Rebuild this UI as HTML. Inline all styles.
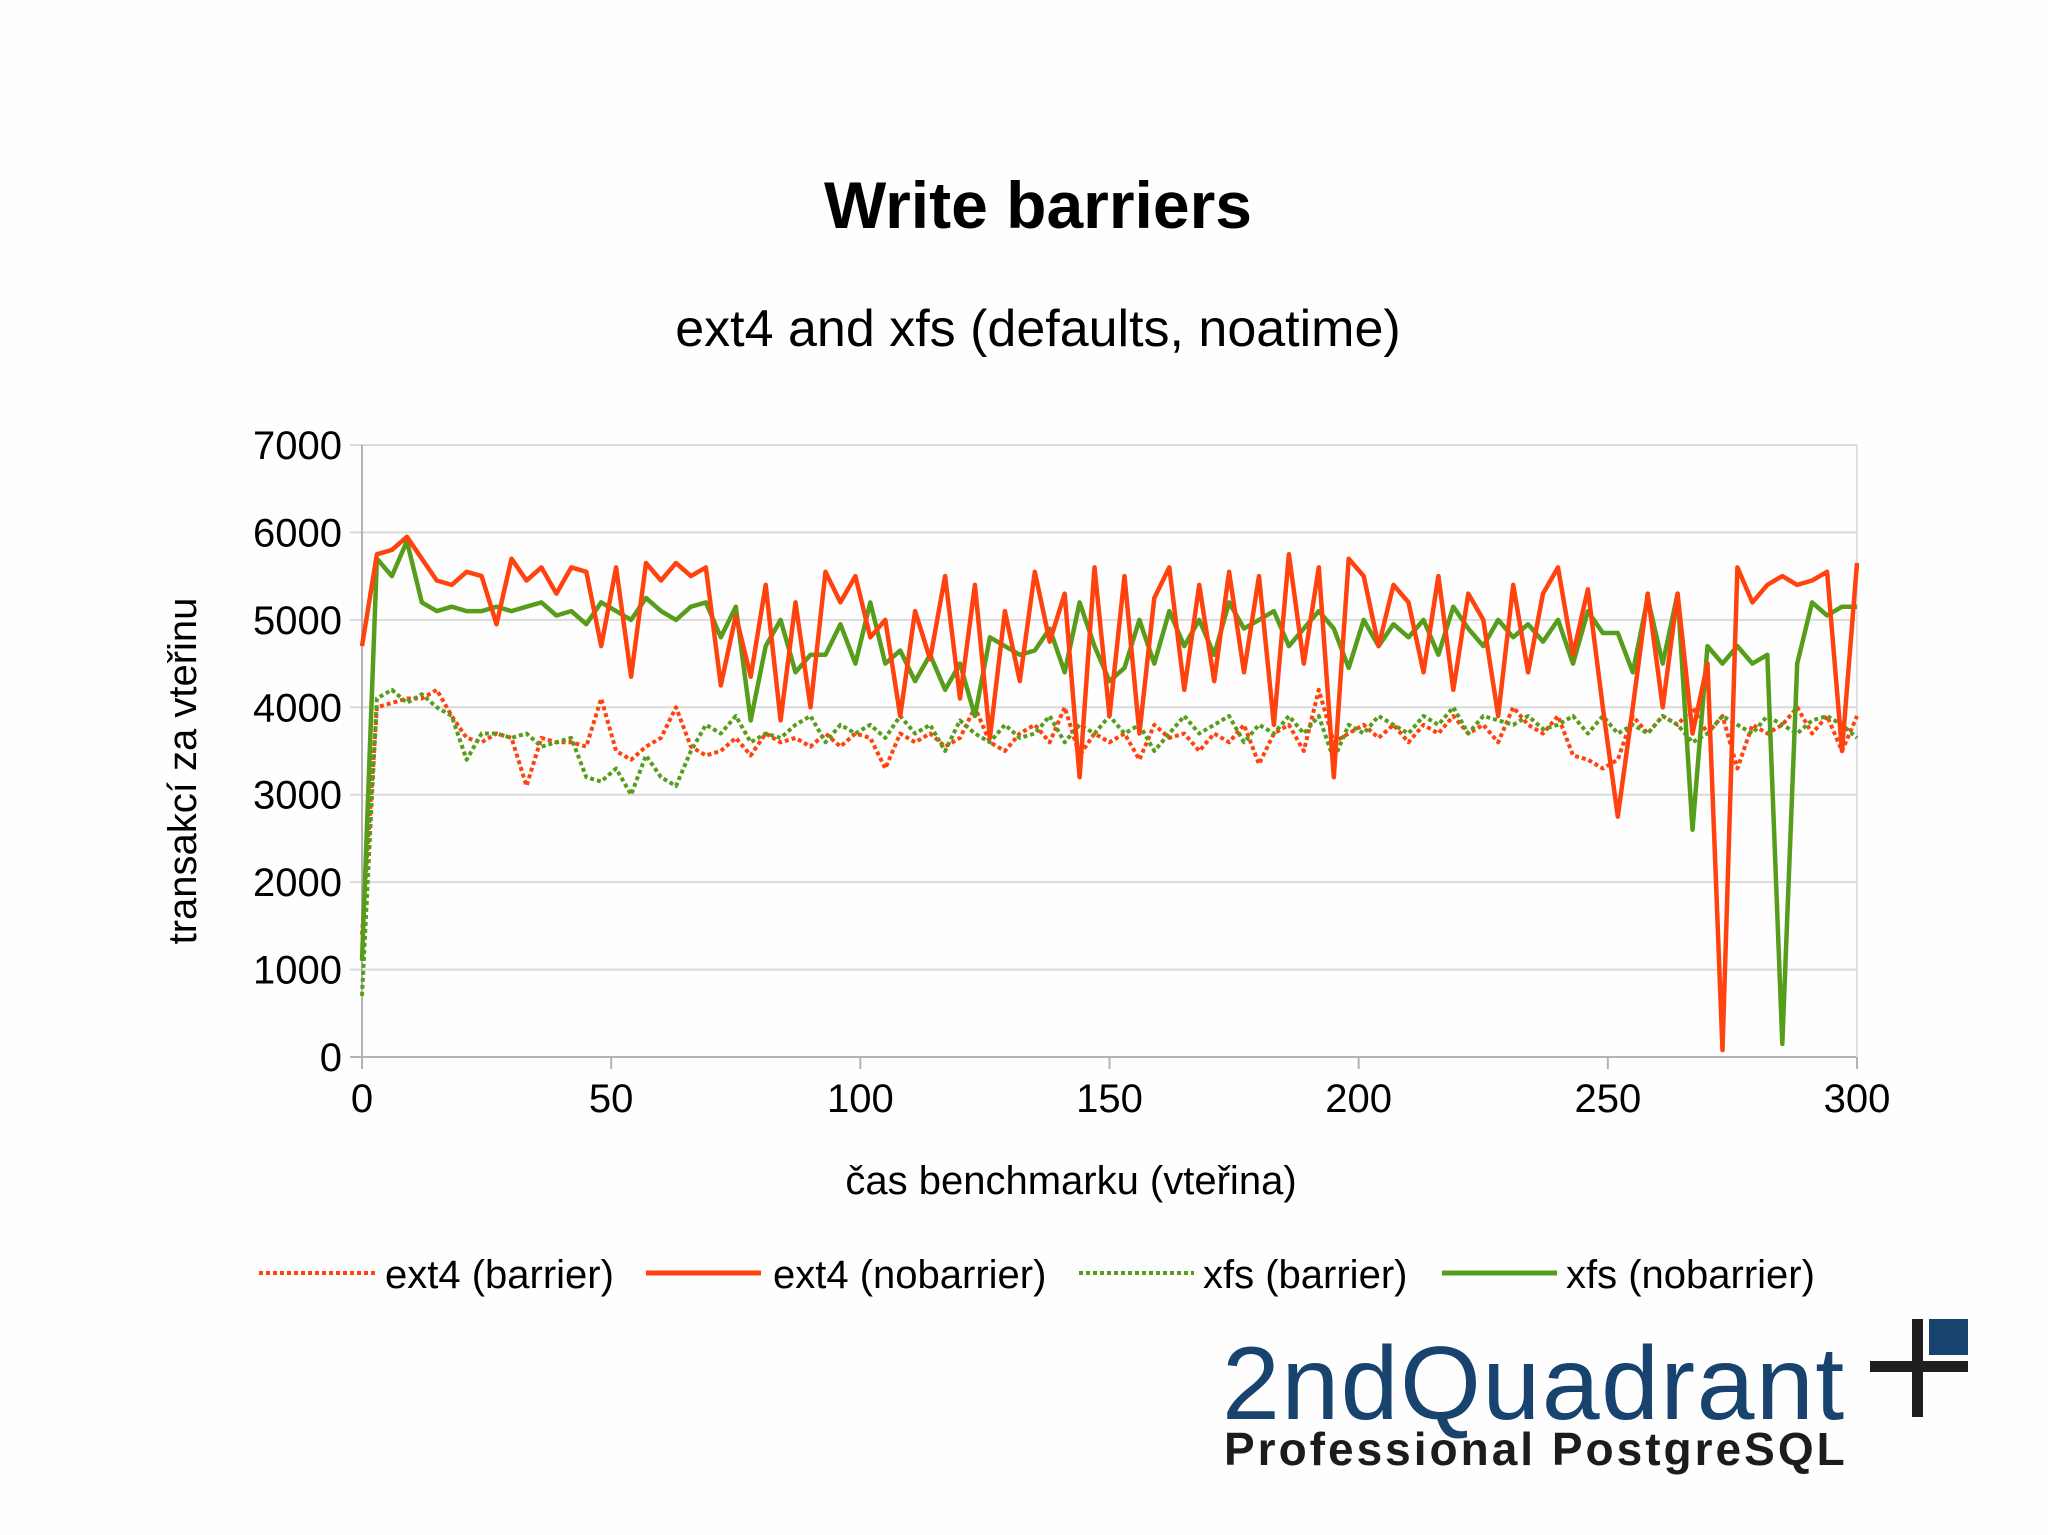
<!DOCTYPE html>
<html><head><meta charset="utf-8"><style>
html,body{margin:0;padding:0;background:#fff;}
svg{display:block;font-family:"Liberation Sans",sans-serif;}
</style></head><body>
<svg id="chart" width="2048" height="1535" viewBox="0 0 2048 1535" xmlns="http://www.w3.org/2000/svg">
<rect width="2048" height="1535" fill="#fefefe"/>
<text x="1038" y="228" text-anchor="middle" font-size="66" font-weight="bold" fill="#000">Write barriers</text>
<text x="1038" y="346" text-anchor="middle" font-size="52" fill="#000">ext4 and xfs (defaults, noatime)</text>
<g id="grid"></g>
<g id="yticks"></g>
<g id="xticks"></g>
<g id="series"></g>
<text x="1071" y="1194" text-anchor="middle" font-size="40" fill="#000">čas benchmarku (vteřina)</text>
<text transform="translate(196,771) rotate(-90)" text-anchor="middle" font-size="40" fill="#000">transakcí za vteřinu</text>
<g>
 <g>
  <line x1="259" y1="1273" x2="375" y2="1273" stroke="#ff420e" stroke-width="4" stroke-dasharray="4 3"/>
  <text x="385" y="1288" font-size="40">ext4 (barrier)</text></g>
 <g>
  <line x1="646" y1="1273" x2="761" y2="1273" stroke="#ff420e" stroke-width="5"/>
  <text x="773" y="1288" font-size="40">ext4 (nobarrier)</text></g>
 <g>
  <line x1="1079" y1="1273" x2="1194" y2="1273" stroke="#579d1c" stroke-width="4" stroke-dasharray="4 3"/>
  <text x="1203" y="1288" font-size="40">xfs (barrier)</text></g>
 <g>
  <line x1="1442" y1="1273" x2="1557" y2="1273" stroke="#579d1c" stroke-width="5"/>
  <text x="1566" y="1288" font-size="40">xfs (nobarrier)</text></g>
</g>
<g>
 <text x="1222" y="1419" font-size="104" fill="#17436e" letter-spacing="1.5">2ndQuadrant</text>
 <text x="1224" y="1465" font-size="46" font-weight="bold" fill="#1c1c1c" letter-spacing="3">Professional PostgreSQL</text>
 <rect x="1912" y="1319" width="11" height="98" fill="#1f1f1f"/>
 <rect x="1870" y="1361" width="98" height="11" fill="#1f1f1f"/>
 <rect x="1929" y="1319" width="39" height="36" fill="#17436e"/>
</g>
</svg>
<script>
const xStep = 3;
const ext4Barrier = [1400,4000,4050,4100,4100,4200,3900,3650,3600,3700,3650,3100,3650,3600,3600,3550,4100,3500,3400,3550,3650,4000,3550,3450,3500,3650,3450,3700,3600,3650,3550,3700,3550,3700,3650,3300,3700,3600,3700,3550,3650,4000,3600,3500,3700,3800,3600,4000,3450,3700,3600,3700,3400,3800,3650,3700,3500,3700,3600,3800,3350,3700,3800,3500,4200,3600,3700,3800,3650,3800,3600,3800,3700,3900,3700,3800,3600,4000,3800,3700,3900,3450,3400,3300,3400,3900,3700,3900,3800,4000,3700,3900,3300,3800,3700,3800,4000,3700,3900,3500,3900];
const ext4NoBarrier = [4700,5750,5800,5950,5700,5450,5400,5550,5500,4950,5700,5450,5600,5300,5600,5550,4700,5600,4350,5650,5450,5650,5500,5600,4250,5050,4350,5400,3850,5200,4000,5550,5200,5500,4800,5000,3900,5100,4550,5500,4100,5400,3650,5100,4300,5550,4750,5300,3200,5600,3900,5500,3700,5250,5600,4200,5400,4300,5550,4400,5500,3800,5750,4500,5600,3200,5700,5500,4700,5400,5200,4400,5500,4200,5300,5000,3900,5400,4400,5300,5600,4600,5350,4000,2750,4000,5300,4000,5300,3700,4500,80,5600,5200,5400,5500,5400,5450,5550,3500,5650];
const xfsBarrier = [700,4100,4200,4050,4150,4000,3900,3400,3700,3700,3650,3700,3550,3600,3650,3200,3150,3300,3000,3450,3200,3100,3500,3800,3700,3900,3600,3700,3650,3800,3900,3600,3800,3700,3800,3650,3900,3700,3800,3500,3850,3700,3600,3800,3650,3700,3900,3600,3800,3700,3900,3700,3800,3500,3700,3900,3700,3800,3900,3600,3800,3700,3900,3700,3900,3400,3800,3700,3900,3800,3700,3900,3800,4000,3700,3900,3850,3800,3900,3750,3800,3900,3700,3900,3700,3800,3700,3900,3800,3600,3700,3900,3800,3700,3900,3800,3700,3850,3900,3800,3650];
const xfsNoBarrier = [1100,5700,5500,5900,5200,5100,5150,5100,5100,5150,5100,5150,5200,5050,5100,4950,5200,5100,5000,5250,5100,5000,5150,5200,4800,5150,3850,4700,5000,4400,4600,4600,4950,4500,5200,4500,4650,4300,4600,4200,4500,3900,4800,4700,4600,4650,4900,4400,5200,4700,4300,4450,5000,4500,5100,4700,5000,4600,5200,4900,5000,5100,4700,4900,5100,4900,4450,5000,4700,4950,4800,5000,4600,5150,4900,4700,5000,4800,4950,4750,5000,4500,5100,4850,4850,4400,5250,4500,5300,2600,4700,4500,4700,4500,4600,150,4500,5200,5050,5150,5150];
const yTicks = [0,1000,2000,3000,4000,5000,6000,7000];
const xTicks = [0,50,100,150,200,250,300];

const NS = "http://www.w3.org/2000/svg";
const L = 362, R = 1857, T = 445, B = 1057;
function xs(v){ return L + (v/300)*(R-L); }
function ys(v){ return B - (v/7000)*(B-T); }
function mk(tag, attrs, parent){ const e=document.createElementNS(NS,tag); for(const k in attrs) e.setAttribute(k,attrs[k]); parent.appendChild(e); return e; }

const grid=document.getElementById('grid'), yt=document.getElementById('yticks'), xt=document.getElementById('xticks'), sg=document.getElementById('series');
yTicks.forEach(v=>{
  const l=mk('line',{x1:L-12,x2:R,y1:ys(v),y2:ys(v),stroke:v===0?'#b3b3b3':'#dadada','stroke-width':2},grid);
  
  
  const t=mk('text',{x:342,y:ys(v)+14,'text-anchor':'end','font-size':40,fill:'#000'},yt);
  t.textContent=v;
  
  
});
const ax=mk('line',{x1:L,x2:L,y1:T,y2:B+12,stroke:'#b3b3b3','stroke-width':2},grid);


const rb=mk('line',{x1:R,x2:R,y1:T,y2:B+12,stroke:'#e0e0e0','stroke-width':2},grid);


xTicks.forEach(v=>{
  const l=mk('line',{x1:xs(v),x2:xs(v),y1:B,y2:B+12,stroke:'#b3b3b3','stroke-width':2},grid);
  
  
  const t=mk('text',{x:xs(v),y:1112,'text-anchor':'middle','font-size':40,fill:'#000'},xt);
  t.textContent=v;
  
  
});
function draw(data,color,dashed,name){
  const pts=data.map((v,i)=>xs(i*xStep).toFixed(1)+','+ys(v).toFixed(1)).join(' ');
  const p=mk('polyline',{points:pts,fill:'none',stroke:color,'stroke-width':dashed?4:4.5,'stroke-linejoin':'round'},sg);
  if(dashed) p.setAttribute('stroke-dasharray','4 3');
  
  
}
draw(ext4Barrier,'#ff420e',true,'series-ext4-barrier');
draw(xfsBarrier,'#579d1c',true,'series-xfs-barrier');
draw(xfsNoBarrier,'#579d1c',false,'series-xfs-nobarrier');
draw(ext4NoBarrier,'#ff420e',false,'series-ext4-nobarrier');
</script>
</body></html>
